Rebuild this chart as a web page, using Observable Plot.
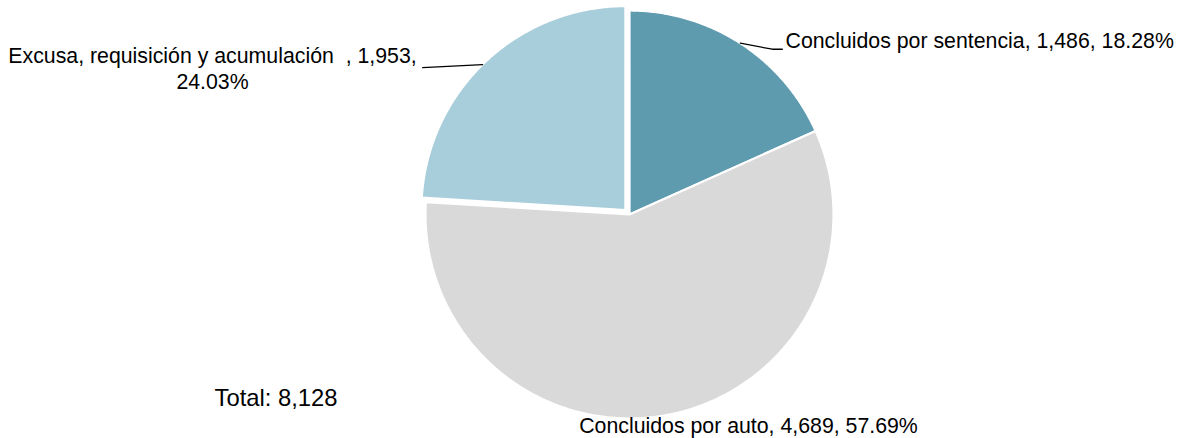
<!DOCTYPE html>
<html>
<head>
<meta charset="utf-8">
<script src="https://cdn.jsdelivr.net/npm/d3@7"></script>
<script src="https://cdn.jsdelivr.net/npm/@observablehq/plot@0.6"></script>
<style>
  html, body { margin: 0; padding: 0; background: #fff; }
  #chart svg { display: block; }
</style>
</head>
<body>
<div id="chart"></div>
<script>
// ---- data ----
const categories = ["Concluidos por sentencia", "Concluidos por auto", "Excusa, requisición y acumulación"];
const values = [1486, 4689, 1953];
const percents = ["18.28%", "57.69%", "24.03%"];
const colors = ["#5F9BAF", "#D9D9D9", "#A9CEDB"];
const totalLabel = "Total: 8,128";

// ---- layout ----
const W = 1183, H = 438;
const cx = 629, cy = 214, R = 204;
const explode = [0, 0, 6];
const fmt = d3.format(",");

const total = d3.sum(values);
let acc = 0;
const slices = values.map((v, i) => {
  const a0 = acc / total * 2 * Math.PI;
  acc += v;
  const a1 = acc / total * 2 * Math.PI;
  const mid = (a0 + a1) / 2;
  const ox = explode[i] * Math.sin(mid), oy = -explode[i] * Math.cos(mid);
  return {name: categories[i], i, a0, a1, mid, ox, oy};
});

const pt = (s, a, r) => ({x: cx + s.ox + r * Math.sin(a), y: cy + s.oy - r * Math.cos(a)});

const polys = [];
for (const s of slices) {
  polys.push({name: s.name, ...pt(s, 0, 0)});
  const n = Math.max(2, Math.ceil((s.a1 - s.a0) / (Math.PI / 360)));
  for (let k = 0; k <= n; k++) {
    const a = s.a0 + (s.a1 - s.a0) * k / n;
    polys.push({name: s.name, ...pt(s, a, R)});
  }
}

// leader lines: from the slice edge near its mid angle to the label
const leaderOffsets = {
  0: {start: [0, 0], pts: [[32, 6], [42, 6]]},
  2: {start: [-3, 3], pts: [[-63, 6]]}
};
const leaders = [];
for (const [i, o] of Object.entries(leaderOffsets)) {
  const s = slices[+i];
  const p0 = pt(s, s.mid, R);
  leaders.push({name: s.name, x: p0.x + o.start[0], y: p0.y + o.start[1]});
  for (const [dx, dy] of o.pts) leaders.push({name: s.name, x: p0.x + dx, y: p0.y + dy});
}

const labelText = [
  `${categories[0]}, ${fmt(values[0])}, ${percents[0]}`,
  `${categories[1]}, ${fmt(values[1])}, ${percents[1]}`,
  `${categories[2]}\u00a0\u00a0, ${fmt(values[2])},\n${percents[2]}`
];
const labels = [
  {text: labelText[0], x: 785, y: 41, anchor: "start"},
  {text: labelText[1], x: 748, y: 424, anchor: "middle"},
  {text: labelText[2], x: 212, y: 67, anchor: "middle"}
];

const font = "'Liberation Sans', Arial, sans-serif";

const chart = Plot.plot({
  width: W,
  height: H,
  margin: 0,
  style: {background: "#fff", fontFamily: font},
  x: {domain: [0, W], range: [0, W], axis: null},
  y: {domain: [0, H], range: [0, H], axis: null},
  color: {domain: categories, range: colors},
  marks: [
    Plot.line(polys, {x: "x", y: "y", z: "name", fill: "name", stroke: "#fff", strokeWidth: 2.2, curve: "linear-closed"}),
    Plot.line(leaders, {x: "x", y: "y", z: "name", stroke: "#000", strokeWidth: 1.3}),
    Plot.text(labels.filter(d => d.anchor === "start"), {x: "x", y: "y", text: "text", textAnchor: "start", fontSize: 21.3, fill: "#000"}),
    Plot.text(labels.filter(d => d.anchor === "middle"), {x: "x", y: "y", text: "text", textAnchor: "middle", fontSize: 21.3, lineHeight: 1.25, fill: "#000"}),
    Plot.text([{text: totalLabel, x: 214, y: 398}], {x: "x", y: "y", text: "text", textAnchor: "start", fontSize: 23.8, fill: "#000"})
  ]
});
document.getElementById("chart").appendChild(chart);
</script>
</body>
</html>
